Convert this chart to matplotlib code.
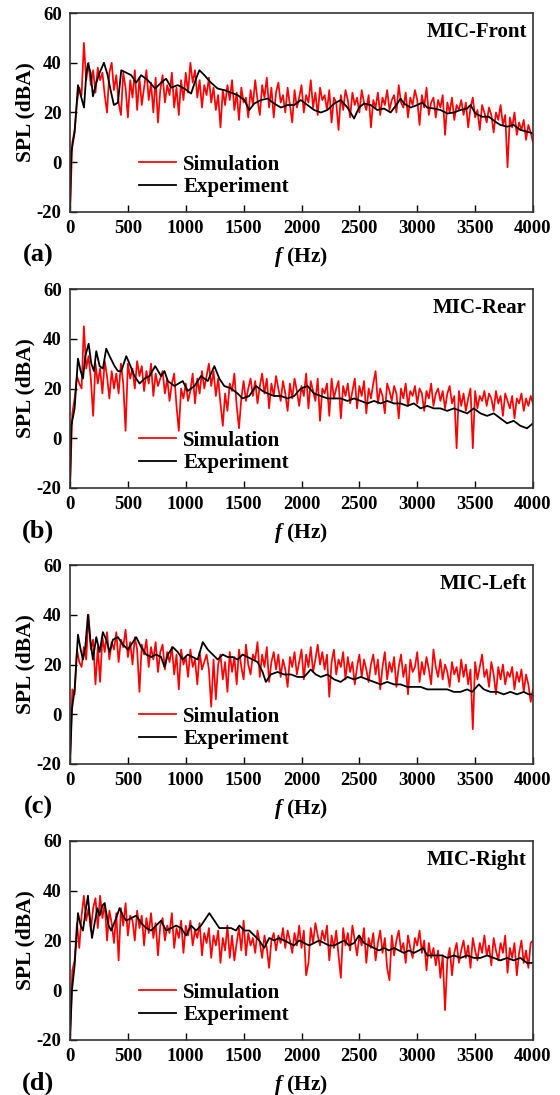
import numpy as np
import matplotlib
matplotlib.use("Agg")
import matplotlib.pyplot as plt

plt.rcParams['font.family'] = ['Liberation Serif', 'DejaVu Serif']
plt.rcParams['font.weight'] = 'bold'
plt.rcParams['axes.unicode_minus'] = False
plt.rcParams['mathtext.fontset'] = 'custom'
plt.rcParams['mathtext.it'] = 'Liberation Serif:italic:bold'
plt.rcParams['mathtext.rm'] = 'Liberation Serif:bold'

# ---------------- data ----------------
sim_freq = np.arange(0, 4001, 20)   # Hz grid of simulation spectra

sim_front = [
    -20, 8, 13, 24, 30, 27, 48, 33, 40, 31,
    37, 28, 38, 33, 36, 27, 20, 36, 40, 29,
    35, 24, 19, 36, 30, 18, 33, 26, 37, 21,
    34, 23, 30, 37, 25, 32, 20, 34, 16, 29,
    35, 24, 31, 27, 36, 22, 30, 19, 33, 25,
    36, 28, 40, 32, 37, 26, 33, 22, 31, 27,
    34, 24, 30, 21, 27, 14, 29, 23, 31, 25,
    33, 21, 28, 17, 30, 24, 26, 18, 29, 23,
    33, 25, 19, 31, 26, 34, 22, 30, 18, 28,
    32, 24, 27, 20, 30, 23, 16, 29, 22, 26,
    31, 20, 27, 24, 33, 22, 28, 19, 30, 25,
    27, 21, 29, 16, 26, 24, 13, 27, 21, 29,
    25, 18, 28, 23, 26, 20, 29, 24, 21, 27,
    14, 25, 22, 28, 19, 26, 23, 29, 21, 25,
    27, 20, 31, 24, 22, 28, 18, 26, 23, 29,
    25, 15, 27, 22, 30, 19, 24, 26, 18, 25,
    22, 27, 11, 24, 20, 26, 17, 23, 21, 25,
    19, 24, 14, 22, 26, 18, 21, 13, 23, 20,
    16, 22, 19, 12, 20, 17, 23, 15, 19, -2,
    18, 14, 20, 11, 16, 13, 17, 9, 15, 12,
    8]

sim_rear = [
    -20, 10, 16, 25, 22, 20, 45, 28, 33, 24,
    9, 30, 22, 28, 18, 31, 25, 16, 27, 20,
    26, 18, 30, 22, 3, 30, 24, 28, 20, 31,
    25, 29, 19, 27, 22, 30, 17, 26, 21, 24,
    27, 18, 24, 15, 22, 26, 13, 3, 20, 16,
    22, 15, 19, 26, 14, 24, 18, 27, 20, 25,
    30, 21, 27, 17, 24, 14, 5, 18, 11, 22,
    19, 26, 13, 4, 16, 23, 15, 20, 24, 17,
    23, 14, 21, 26, 18, 24, 12, 22, 17, 25,
    20, 15, 23, 18, 11, 22, 16, 24, 19, 13,
    21, 17, 26, 12, 23, 19, 15, 24, 7, 20,
    18, 22, 9, 24, 16, 20, 23, 8, 21, 17,
    22, 14, 19, 24, 12, 21, 17, 23, 10, 20,
    16, 22, 27, 14, 20, 17, 10, 22, 19, 15,
    21, 18, 8, 20, 16, 22, 13, 19, 17, 21,
    14, 20, 18, 11, 19, 16, 22, 13, 18, 20,
    15, 19, 12, 18, 21, 14, 17, -4, 19, 13,
    18, 11, 16, 20, -4, 19, 12, 17, 15, 19,
    13, 18, 16, 11, 19, 14, 17, 9, 18, 15,
    12, 17, 8, 16, 14, 18, 11, 16, 13, 17,
    14]

sim_left = [
    -20, 10, 8, 26, 21, 19, 27, 22, 40, 26,
    30, 12, 27, 13, 31, 25, 33, 22, 29, 26,
    33, 21, 30, 27, 34, 23, 29, 20, 31, 26,
    9, 28, 24, 30, 19, 27, 22, 29, 17, 25,
    28, 18, 25, 21, 27, 16, 24, 10, 26, 20,
    23, 15, 26, 19, 22, 12, 25, 18, 21, 24,
    18, 3, 22, 6, 20, 24, 14, 21, 9, 25,
    17, 23, 12, 26, 19, 14, 28, 20, 16, 24,
    22, 29, 15, 24, 19, 27, 13, 21, 25, 18,
    24, 15, 22, 18, 11, 23, 19, 25, 16, 21,
    26, 14, 24, 19, 27, 17, 22, 28, 20, 25,
    18, 24, 7, 21, 26, 16, 22, 19, 25, 14,
    23, 17, 21, 12, 19, 24, 15, 22, 18, 13,
    20, 24, 16, 22, 10, 19, 25, 14, 21, 17,
    23, 11, 19, 24, 15, 20, 8, 22, 17, 19,
    25, 13, 21, 16, 23, 18, 12, 26, 19, 15,
    22, 14, 20, 17, 11, 21, 16, 19, 13, 22,
    15, 20, 12, 18, -6, 21, 14, 19, 24, 15,
    18, 11, 21, 16, 8, 19, 14, 20, 12, 17,
    15, 19, 10, 17, 13, 18, 9, 16, 12, 5,
    10]

sim_right = [
    -20, 8, 12, 27, 17, 30, 38, 28, 33, 24,
    33, 37, 25, 38, 29, 35, 20, 32, 27, 19,
    31, 12, 33, 26, 35, 22, 30, 28, 20, 32,
    25, 30, 18, 29, 23, 31, 21, 27, 14, 26,
    29, 20, 26, 23, 31, 17, 25, 21, 28, 15,
    26, 22, 28, 18, 24, 21, 27, 14, 23, 19,
    25, 13, 22, 18, 24, 11, 21, 16, 26, 13,
    22, 12, 19, 25, 16, 28, 14, 23, 18, 21,
    15, 24, 19, 13, 22, 17, 9, 20, 23, 16,
    22, 19, 25, 17, 24, 20, 15, 23, 18, 26,
    17, 24, 6, 11, 25, 19, 27, 22, 18, 24,
    20, 26, 12, 22, 17, 24, 14, 5, 25, 18,
    23, 16, 26, 20, 14, 22, 18, 25, 11, 21,
    17, 23, 12, 19, 24, 15, 21, 9, 4, 22,
    14, 20, 24, 16, 19, 11, 22, 17, 13, 21,
    18, 24, 15, 20, 8, 19, 13, 17, 10, 16,
    5, 14, -8, 12, 17, 6, 15, 19, 11, 16,
    20, 13, 18, 9, 21, 16, 12, 19, 15, 22,
    14, 18, 10, 21, 16, 12, 19, 15, 22, 7,
    17, 13, 19, 6, 15, 20, 11, 16, 9, 19,
    20]

# experiment spectra: (frequency Hz, SPL dBA)
exp_front = [
    (0, -20), (11, 4), (40, 12), (69, 31), (98, 26), (121, 22), (141, 35.6), (155, 39.6),
    (178, 36), (198, 26.5), (227, 32), (256, 36), (293, 40), (322, 35.6), (351, 29),
    (379, 23), (414, 24), (443, 37), (486, 36), (529, 35), (572, 32), (615, 35),
    (672, 33), (736, 29.6), (787, 32), (830, 33.6), (874, 30), (931, 31), (989, 29.6),
    (1046, 27.6), (1089, 33.6), (1118, 37), (1161, 35), (1218, 32), (1276, 29.6),
    (1333, 29), (1391, 28), (1448, 27), (1506, 25), (1549, 21), (1592, 23.6),
    (1649, 25), (1707, 25.6), (1764, 23.6), (1822, 22), (1879, 23), (1937, 23),
    (1994, 25), (2052, 23), (2109, 21), (2167, 20), (2224, 21), (2282, 23.6),
    (2339, 25), (2397, 22), (2454, 17.6), (2497, 22), (2540, 23.6), (2598, 23),
    (2655, 21), (2713, 21.6), (2770, 20), (2828, 23.6), (2856, 25.6), (2885, 23.6),
    (2943, 22), (3000, 23), (3043, 24), (3086, 22), (3144, 21.6), (3201, 21),
    (3259, 19.6), (3316, 20), (3374, 21), (3431, 21.6), (3460, 23), (3503, 19.6),
    (3560, 18.3), (3618, 18.3), (3675, 16.3), (3718, 15), (3776, 14.3), (3833, 15),
    (3891, 13), (3948, 12.3), (4000, 11.6)]

exp_rear = [
    (0, -20), (11, 5), (40, 12), (69, 32), (92, 27), (112, 24), (132, 33), (161, 38),
    (184, 30), (207, 27), (227, 35), (256, 29), (284, 28), (313, 36), (342, 33),
    (385, 29), (414, 27), (443, 27), (486, 33), (514, 30), (557, 25), (601, 22),
    (644, 24), (687, 25), (736, 29), (787, 25), (816, 27), (845, 23), (902, 21),
    (974, 23), (1017, 19), (1075, 21), (1132, 25), (1190, 23), (1247, 29), (1290, 24),
    (1333, 21), (1391, 20), (1448, 18), (1491, 16), (1549, 17), (1606, 21), (1664, 19),
    (1707, 18), (1764, 17), (1822, 17), (1879, 16), (1937, 17), (1994, 20), (2052, 21),
    (2109, 18), (2167, 17), (2224, 16), (2282, 16), (2339, 16), (2397, 15), (2454, 16),
    (2512, 15), (2569, 14), (2626, 15), (2684, 14), (2741, 15), (2799, 14), (2856, 14),
    (2914, 13), (2971, 14), (3029, 12), (3086, 13), (3144, 12), (3201, 12), (3259, 11),
    (3316, 12), (3374, 11), (3431, 10), (3489, 12), (3546, 10), (3603, 9), (3661, 10),
    (3718, 8), (3776, 6), (3833, 7), (3891, 5), (3948, 4), (4000, 6)]

exp_left = [
    (0, -20), (17, 2), (40, 10), (69, 32), (92, 26), (112, 22), (132, 27), (155, 40),
    (178, 29), (198, 22), (227, 31), (256, 25), (284, 33), (313, 30), (342, 25),
    (371, 30), (414, 31), (457, 28), (500, 26), (543, 29), (572, 31), (615, 27),
    (658, 24), (701, 23), (744, 24), (787, 23), (816, 19), (845, 24), (888, 27),
    (931, 25), (974, 22), (1017, 24), (1060, 23), (1103, 22), (1147, 29), (1190, 26),
    (1233, 24), (1276, 22), (1319, 24), (1362, 23), (1405, 23), (1448, 22), (1491, 24),
    (1534, 23), (1577, 22), (1620, 21), (1664, 17), (1692, 13), (1735, 16), (1793, 17),
    (1850, 16), (1908, 16), (1965, 15), (2023, 15), (2080, 18), (2123, 16), (2167, 15),
    (2224, 16), (2282, 14), (2339, 13), (2397, 15), (2454, 14), (2512, 15), (2569, 14),
    (2626, 13), (2684, 12), (2741, 13), (2799, 12), (2856, 12), (2914, 11), (2971, 11),
    (3029, 11), (3086, 10), (3144, 10), (3201, 10), (3259, 10), (3316, 9), (3374, 9),
    (3431, 10), (3474, 9), (3532, 12), (3575, 10), (3632, 9), (3690, 9), (3747, 8),
    (3805, 9), (3862, 8), (3920, 9), (3963, 8), (4000, 8)]

exp_right = [
    (0, -20), (17, 0), (40, 10), (69, 31), (92, 26), (112, 24), (132, 31), (155, 38),
    (170, 30), (190, 21), (213, 27), (236, 33), (256, 30), (279, 34), (299, 35),
    (333, 26), (356, 24), (399, 29), (428, 33), (457, 30), (486, 28), (529, 29),
    (572, 30), (615, 27), (658, 25), (701, 24), (744, 26), (787, 28), (830, 24),
    (874, 25), (917, 26), (960, 25), (1003, 22), (1046, 26), (1089, 24), (1132, 26),
    (1175, 29), (1204, 31), (1247, 28), (1290, 25), (1333, 25), (1391, 25), (1434, 24),
    (1463, 26), (1506, 24), (1549, 24), (1592, 22), (1635, 20), (1678, 17), (1721, 21),
    (1764, 20), (1807, 21), (1850, 20), (1893, 19), (1936, 18), (1979, 20), (2023, 19),
    (2066, 18), (2109, 19), (2152, 20), (2195, 19), (2238, 18), (2282, 18), (2325, 19),
    (2368, 20), (2411, 18), (2454, 19), (2497, 22), (2540, 19), (2583, 18), (2626, 17),
    (2670, 16), (2713, 17), (2756, 16), (2799, 17), (2842, 16), (2885, 15), (2928, 16),
    (2971, 15), (3014, 16), (3052, 17), (3086, 14), (3129, 14), (3172, 14), (3215, 14),
    (3259, 13), (3316, 14), (3374, 13), (3431, 14), (3489, 13), (3546, 13), (3603, 14),
    (3661, 13), (3718, 12), (3776, 13), (3833, 12), (3891, 13), (3948, 11), (4000, 11)]

mic_names = ["MIC-Front", "MIC-Rear", "MIC-Left", "MIC-Right"]
panel_tags = ["(a)", "(b)", "(c)", "(d)"]
sim_all = [sim_front, sim_rear, sim_left, sim_right]
exp_all = [exp_front, exp_rear, exp_left, exp_right]

x_ticks = [0, 500, 1000, 1500, 2000, 2500, 3000, 3500, 4000]
y_ticks = [-20, 0, 20, 40, 60]

# ---------------- figure ----------------
W, H = 560, 1095
fig = plt.figure(figsize=(W / 100, H / 100), dpi=100)
ax_left, ax_w, ax_h = 70, 463, 199
bottoms = [212, 488, 764, 1040]

for i in range(4):
    b = bottoms[i]
    ax = fig.add_axes([ax_left / W, 1 - b / H, ax_w / W, ax_h / H])
    ax.plot(sim_freq, sim_all[i], color='#ff0000', lw=1.25, label='Simulation')
    ef, ev = np.array(exp_all[i], dtype=float).T
    ax.plot(ef, ev, color='black', lw=1.3, label='Experiment')
    ax.set_xlim(0, 4000)
    ax.set_ylim(-20, 60)
    ax.set_xticks(x_ticks)
    ax.set_yticks(y_ticks)
    ax.tick_params(direction='in', length=5, width=1.0, labelsize=13.5, pad=6)
    for lab in ax.get_xticklabels() + ax.get_yticklabels():
        lab.set_fontweight('bold')
    for s in ax.spines.values():
        s.set_linewidth(1.2)
        s.set_color('#333333')
    ax.set_xlabel(r'$f$ (Hz)', fontsize=15.5, fontweight='bold')
    ax.xaxis.set_label_coords(0.5, -0.165)
    ax.set_ylabel('SPL (dBA)', fontsize=15.5, fontweight='bold')
    ax.yaxis.set_label_coords(-0.075, 0.5)
    ax.text(0.987, 0.905, mic_names[i], transform=ax.transAxes, ha='right',
            va='center', fontsize=15, fontweight='bold')
    leg = ax.legend(loc='lower left', bbox_to_anchor=(0.148, 0.075), frameon=False,
                    fontsize=15, handlelength=1.8, handletextpad=0.35,
                    labelspacing=0.12, borderpad=0, borderaxespad=0)
    for t in leg.get_texts():
        t.set_fontweight('bold')
    fig.text(38 / W, 1 - (b + 43) / H, panel_tags[i], ha='center', va='center',
             fontsize=19, fontweight='bold')

fig.savefig('out.png', dpi=100)
